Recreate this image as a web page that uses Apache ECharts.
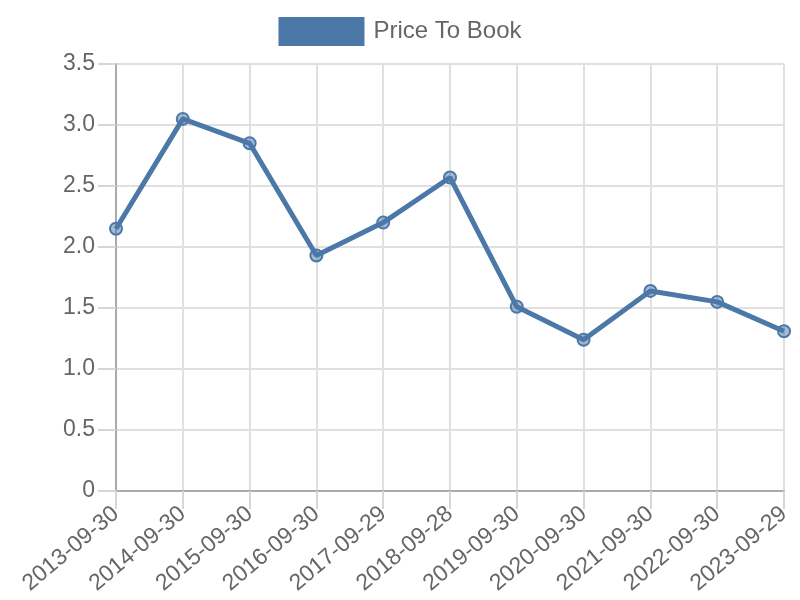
<!DOCTYPE html>
<html><head><meta charset="utf-8">
<script src="https://cdn.jsdelivr.net/npm/echarts@6/dist/echarts.min.js"></script>
<style>html,body{margin:0;padding:0;background:#fff}#c{width:800px;height:600px}</style>
</head><body><div id="c"></div>
<script>
const categories = ["2013-09-30","2014-09-30","2015-09-30","2016-09-30","2017-09-29","2018-09-28","2019-09-30","2020-09-30","2021-09-30","2022-09-30","2023-09-29"];
const priceToBook = [2.15, 3.05, 2.85, 1.93, 2.20, 2.57, 1.51, 1.24, 1.64, 1.55, 1.31];
const seriesName = "Price To Book";
const yTicks = {min: 0, max: 3.5, interval: 0.5};

const chart = echarts.init(document.getElementById('c'));
const font = 'Liberation Sans, Arial, sans-serif';
chart.setOption({
  animation: false,
  textStyle: {fontFamily: font},
  legend: {
    top: 12, left: 'center',
    itemWidth: 86, itemHeight: 29, itemGap: 10,
    icon: 'rect',
    data: [{name: seriesName, icon: 'rect', itemStyle: {color: '#4c78a8', borderWidth: 0}}],
    textStyle: {fontSize: 24, color: '#666', fontFamily: font, padding: [0,0,0,4]}
  },
  grid: {left: 116, right: 16, top: 64, bottom: 109, containLabel: false},
  xAxis: {
    type: 'category', data: categories, boundaryGap: false,
    axisLine: {lineStyle: {color: '#aaa', width: 2}},
    axisTick: {show: true, length: 18, lineStyle: {color: '#d6d6d6', width: 2}},
    splitLine: {show: true, lineStyle: {color: '#e0e0e0', width: 2}},
    axisLabel: {rotate: 40, fontSize: 23, color: '#666', margin: 20, fontFamily: font, interval: 0}
  },
  yAxis: {
    type: 'value', min: yTicks.min, max: yTicks.max, interval: yTicks.interval,
    axisLine: {show: true, lineStyle: {color: '#aaa', width: 2}},
    axisTick: {show: true, length: 18, lineStyle: {color: '#d6d6d6', width: 2}},
    splitLine: {show: true, lineStyle: {color: '#e0e0e0', width: 2}},
    axisLabel: {fontSize: 23, color: '#666', margin: 21, fontFamily: font,
      formatter: v => v === 0 ? '0' : v.toFixed(1)}
  },
  series: [{
    name: seriesName, type: 'line', data: priceToBook,
    lineStyle: {color: '#4c78a8', width: 5},
    symbol: 'circle', symbolSize: 12,
    itemStyle: {color: 'rgba(76,120,168,0.5)', borderColor: '#4c78a8', borderWidth: 2},
    emphasis: {disabled: true}
  }]
});
</script></body></html>
